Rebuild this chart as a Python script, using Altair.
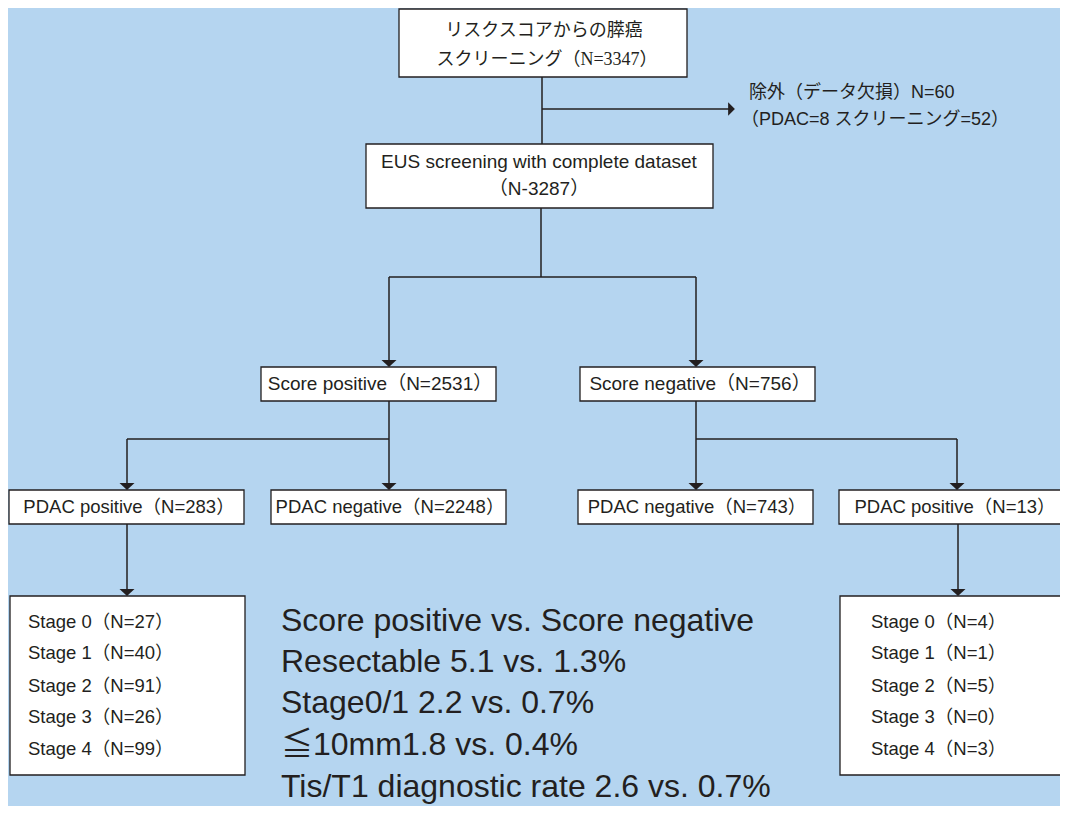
import altair as alt
import pandas as pd

BG = "#b5d5f0"
INK = "#231f20"
SANS = "Liberation Sans, Noto Sans CJK JP"
SERIF = "Liberation Serif, Noto Sans CJK JP"

# ---------------- texts / values ----------------
top_lines = ["リスクスコアからの膵癌", "スクリーニング（N=3347）"]
exclusion_lines = ["除外（データ欠損）N=60", "（PDAC=8 スクリーニング=52）"]
eus_lines = ["EUS screening with complete dataset", "（N-3287）"]
score_labels = ["Score positive（N=2531）", "Score negative（N=756）"]
pdac_labels = ["PDAC positive（N=283）", "PDAC negative（N=2248）",
               "PDAC negative（N=743）", "PDAC positive（N=13）"]
stage_names = ["Stage 0", "Stage 1", "Stage 2", "Stage 3", "Stage 4"]
stage_n_score_pos = [27, 40, 91, 26, 99]
stage_n_score_neg = [4, 1, 5, 0, 3]
summary_lines = ["Score positive vs. Score negative",
                 "Resectable 5.1 vs. 1.3%",
                 "Stage0/1 2.2 vs. 0.7%",
                 "≦10mm1.8 vs. 0.4%",
                 "Tis/T1 diagnostic rate 2.6 vs. 0.7%"]

# ---------------- layout (diagram geometry) ----------------
boxes = {  # x1, x2, y1, y2
    "top": (399, 687, 9, 77),
    "eus": (366, 713, 144, 208),
    "spos": (261, 496, 367, 401),
    "sneg": (580, 815, 367, 401),
    "p1": (9, 244, 490, 524),
    "p2": (271, 506, 490, 524),
    "p3": (578, 813, 490, 524),
    "p4": (839, 1080, 490, 524),
    "stL": (10, 245, 596, 775),
    "stR": (840, 1080, 596, 775),
}
segments = [
    (542, 77, 542, 144), (542, 109, 731, 109),
    (541, 208, 541, 277), (389, 277, 696, 277),
    (389, 277, 389, 364), (696, 277, 696, 364),
    (389, 401, 389, 439), (127, 439, 389, 439),
    (127, 439, 127, 487), (389, 439, 389, 487),
    (696, 401, 696, 439), (696, 439, 957, 439),
    (696, 439, 696, 487), (957, 439, 957, 487),
    (127, 524, 127, 593), (958, 524, 958, 593),
]
down_tips = [(389, 367), (696, 367), (127, 490), (389, 490),
             (696, 490), (957, 490), (127, 596), (958, 596)]
right_tips = [(735, 109)]

box_df = pd.DataFrame([dict(k=k, x1=v[0], x2=v[1], y1=v[2], y2=v[3]) for k, v in boxes.items()])
seg_df = pd.DataFrame(segments, columns=["x1", "y1", "x2", "y2"])
down_df = pd.DataFrame([dict(x=x, y=y - 3.5) for x, y in down_tips])
right_df = pd.DataFrame([dict(x=x - 3.5, y=y) for x, y in right_tips])

center_sans = []
center_sans += [dict(t=eus_lines[0], x=539, y=162, fs=19), dict(t=eus_lines[1], x=539, y=189, fs=19)]
center_sans += [dict(t=score_labels[0], x=380, y=384, fs=19), dict(t=score_labels[1], x=700, y=384, fs=19)]
for lab, cx in zip(pdac_labels, [129, 390, 697, 955]):
    center_sans.append(dict(t=lab, x=cx, y=507, fs=18.5))
center_sans_df = pd.DataFrame(center_sans)

center_serif_df = pd.DataFrame([dict(t=top_lines[0], x=544, y=31),
                                dict(t=top_lines[1], x=547, y=60)])

left_rows = [dict(t=exclusion_lines[0], x=749, y=93, fs=18),
             dict(t=exclusion_lines[1], x=741, y=120, fs=18)]
stage_y = [622, 653, 686, 717, 749]
for name, n, yy in zip(stage_names, stage_n_score_pos, stage_y):
    left_rows.append(dict(t=f"{name}（N={n}）", x=28, y=yy, fs=18.5))
for name, n, yy in zip(stage_names, stage_n_score_neg, stage_y):
    left_rows.append(dict(t=f"{name}（N={n}）", x=871, y=yy, fs=18.5))
left_df = pd.DataFrame(left_rows)

summary_df = pd.DataFrame([dict(t=s, x=281, y=b) for s, b in zip(summary_lines, [631, 672, 713, 755, 797])])

XS = alt.Scale(domain=[8, 1060], nice=False, zero=False)
YS = alt.Scale(domain=[8, 806], nice=False, zero=False, reverse=True)


def X(f):
    return alt.X(f"{f}:Q", scale=XS, axis=None)


def Y(f):
    return alt.Y(f"{f}:Q", scale=YS, axis=None)


rects = alt.Chart(box_df).mark_rect(fill="white", stroke=INK, strokeWidth=1.3, clip=True).encode(
    x=X("x1"), x2="x2", y=Y("y1"), y2="y2")
rules = alt.Chart(seg_df).mark_rule(color=INK, strokeWidth=1.5).encode(
    x=X("x1"), y=Y("y1"), x2="x2", y2="y2")
downs = alt.Chart(down_df).mark_point(shape="M-1,-0.47L1,-0.47L0,0.47Z", filled=True, size=225,
                                      color=INK, opacity=1, strokeWidth=0).encode(x=X("x"), y=Y("y"))
rights = alt.Chart(right_df).mark_point(shape="M-0.5,-1L0.5,0L-0.5,1Z", filled=True, size=180,
                                        color=INK, opacity=1, strokeWidth=0).encode(x=X("x"), y=Y("y"))
t_center = alt.Chart(center_sans_df).mark_text(font=SANS, color=INK, align="center",
                                               baseline="middle").encode(
    x=X("x"), y=Y("y"), text="t:N", size=alt.Size("fs:Q", scale=None, legend=None))
t_serif = alt.Chart(center_serif_df).mark_text(font=SERIF, fontSize=18, color=INK, align="center",
                                               baseline="middle").encode(x=X("x"), y=Y("y"), text="t:N")
t_left = alt.Chart(left_df).mark_text(font=SANS, color=INK, align="left", baseline="middle").encode(
    x=X("x"), y=Y("y"), text="t:N", size=alt.Size("fs:Q", scale=None, legend=None))
t_sum = alt.Chart(summary_df).mark_text(font=SANS, fontSize=32, color=INK, align="left",
                                        baseline="alphabetic").encode(x=X("x"), y=Y("y"), text="t:N")

chart = alt.layer(rects, rules, downs, rights, t_center, t_serif, t_left, t_sum).properties(
    width=1052, height=798, autosize="none", padding=0, background=BG
).configure_view(stroke=None)

chart.save("out.html", embed_options={"renderer": "svg", "actions": False})
